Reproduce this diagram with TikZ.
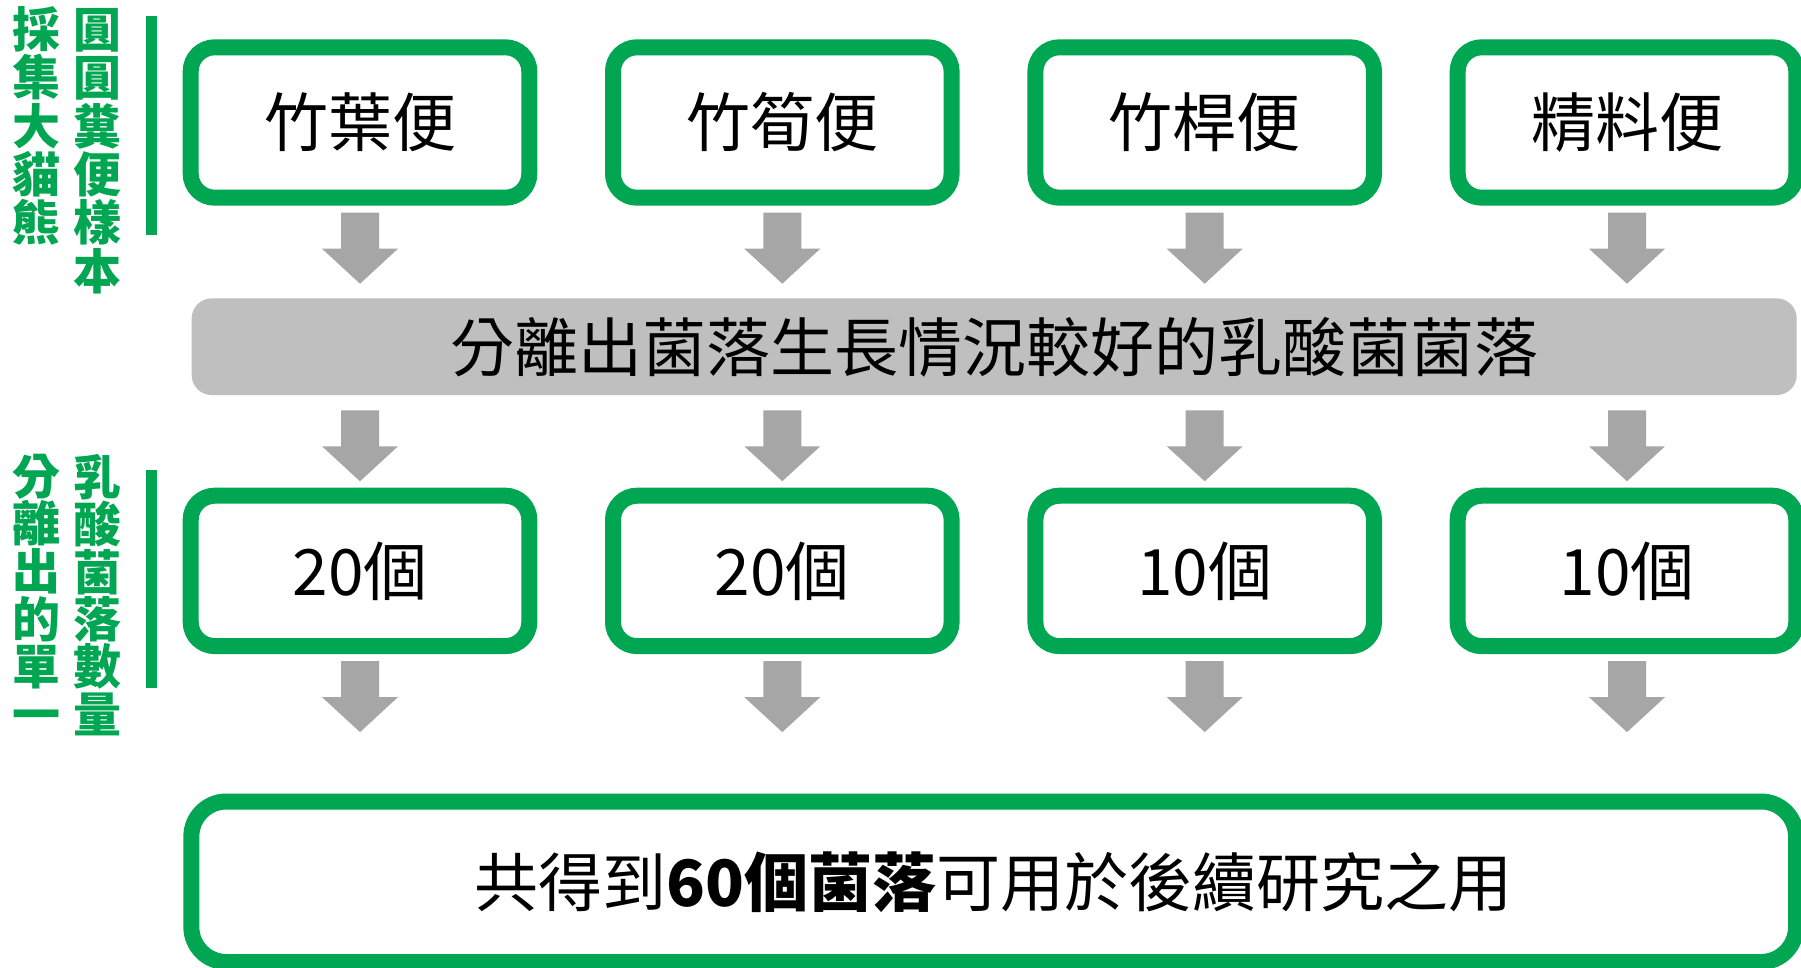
\documentclass[tikz,border=0pt]{standalone}
\usepackage{fontspec}
\newfontfamily\cjk{Noto Sans CJK TC}
\usetikzlibrary{calc}
\definecolor{pgreen}{RGB}{0,166,81}
\definecolor{agray}{RGB}{166,166,166}
\definecolor{bgray}{RGB}{191,191,191}
\newcommand\blkarrow[1]{\fill[agray] ($(#1)+(-19,0)$) -- ++(38,0) -- ++(0,36) -- ++(19,0) -- ++(-38,35) -- ++(-38,-35) -- ++(19,0) -- cycle;}
\begin{document}
\begin{tikzpicture}[x=1pt,y=-1pt,
  box/.style={draw=pgreen, line width=16pt, rounded corners=24pt, fill=white,
    minimum width=338.6pt, minimum height=150.4pt, inner sep=0pt,
    font=\cjk\fontsize{64}{64}\selectfont, text height=56.3pt, text depth=7.7pt},
  graybar/.style={fill=bgray, rounded corners=20pt, minimum width=1605pt,
    minimum height=96.7pt, inner sep=0pt,
    font=\cjk\fontsize{64}{64}\selectfont, text height=56.3pt, text depth=7.7pt},
  bigbox/.style={draw=pgreen, line width=16pt, rounded corners=35pt, fill=white,
    minimum width=1604.7pt, minimum height=160.5pt, inner sep=0pt,
    font=\cjk\fontsize{64}{64}\selectfont, text height=56.3pt, text depth=7.7pt},
  lbl/.style={inner sep=0pt, text=pgreen, font=\cjk\bfseries\fontsize{48}{48}\selectfont,
    text height=42.2pt, text depth=5.8pt}
]
\clip (0,0) rectangle (1801,967);
\fill[white] (0,0) rectangle (1801,967);

% left labels, group 1
\foreach \c [count=\i from 0] in {採,集,大,貓,熊}
  \node[lbl] (la\i) at (36.6, 29.3+48.3*\i) {\c};
\foreach \c [count=\i from 0] in {圓,圓,糞,便,樣,本}
  \node[lbl] (lb\i) at (97.4, 29.3+48.3*\i) {\c};
\fill[pgreen] (146,16) rectangle (157.3,235.3);

% left labels, group 2
\foreach \c [count=\i from 0] in {分,離,出,的,單,一}
  \node[lbl] (lc\i) at (36.6, 476+47.6*\i) {\c};
\foreach \c [count=\i from 0] in {乳,酸,菌,落,數,量}
  \node[lbl] (ld\i) at (97.4, 477+47.4*\i) {\c};
\fill[pgreen] (146,470) rectangle (157.3,688.3);

% top row
\node[box] (t1) at (360,122.5) {竹葉便};
\node[box] (t2) at (782.3,122.5) {竹筍便};
\node[box] (t3) at (1204.7,122.5) {竹桿便};
\node[box] (t4) at (1627,122.5) {精料便};

% gray bar
\node[graybar] (g) at (994.2,346.7) {分離出菌落生長情況較好的乳酸菌菌落};

% second row
\node[box] (m1) at (360,570.9) {20個};
\node[box] (m2) at (782.3,570.9) {20個};
\node[box] (m3) at (1204.7,570.9) {10個};
\node[box] (m4) at (1627,570.9) {10個};

% bottom box
\node[bigbox] (b) at (993.7,881.75) {共得到{\bfseries 60個菌落}可用於後續研究之用};

% arrows
\foreach \n in {1,2,3,4}{
  \coordinate (ra\n) at ($(t\n.south)+(0,7)$);
  \blkarrow{ra\n}
  \coordinate (rb\n) at ($(g.south -| t\n)+(0,15)$);
  \blkarrow{rb\n}
  \coordinate (rc\n) at ($(m\n.south)+(0,7)$);
  \blkarrow{rc\n}
}
\end{tikzpicture}
\end{document}
